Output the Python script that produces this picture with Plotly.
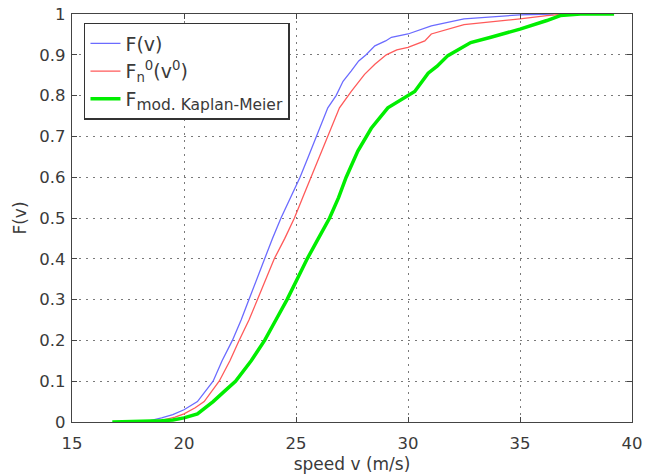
import plotly.graph_objects as go

# F(v)
blue_x = [17.5, 18.4, 19.0, 19.5, 20.0, 20.6, 21.3, 21.7, 22.16, 22.55, 22.9, 23.25, 23.58, 23.95,
          24.33, 24.75, 25.18, 25.55, 25.9, 26.42, 26.79, 27.1, 27.46, 27.8, 28.13, 28.52, 29.0,
          29.26, 30.0, 31.04, 32.5, 34.0, 35.0, 36.5]
blue_y = [0, 0.002, 0.01, 0.018, 0.03, 0.05, 0.1, 0.15, 0.2, 0.25, 0.3, 0.35, 0.4, 0.45,
          0.5, 0.55, 0.6, 0.65, 0.7, 0.77, 0.8, 0.835, 0.86, 0.885, 0.9, 0.922, 0.934,
          0.943, 0.951, 0.971, 0.988, 0.993, 0.998, 1.0]

# F_n^0(v^0)
red_x = [18.0, 19.1, 19.6, 20.0, 20.5, 20.9, 21.57, 22.05, 22.46, 22.9, 23.28, 23.65, 24.03, 24.5,
         24.93, 25.3, 25.67, 26.05, 26.42, 26.94, 27.46, 28.06, 28.52, 29.03, 29.5, 30.0, 30.75,
         31.04, 32.5, 34.0, 35.0, 36.2, 37.0]
red_y = [0, 0.005, 0.012, 0.02, 0.035, 0.05, 0.1, 0.15, 0.2, 0.25, 0.3, 0.35, 0.4, 0.45,
         0.5, 0.55, 0.6, 0.65, 0.7, 0.77, 0.81, 0.852, 0.877, 0.9, 0.912, 0.918, 0.934,
         0.951, 0.974, 0.982, 0.988, 0.996, 1.0]

# F_mod. Kaplan-Meier
green_x = [16.8, 18.0, 19.0, 19.5, 20.0, 20.6, 21.3, 21.8, 22.3, 23.0, 23.6, 24.1, 24.6, 25.05,
           25.5, 26.0, 26.5, 26.9, 27.24, 27.76, 28.36, 29.1, 29.7, 30.3, 30.9, 31.3, 31.78,
           32.8, 33.7, 35.0, 36.2, 36.8, 37.7, 39.2]
green_y = [0, 0.001, 0.003, 0.005, 0.01, 0.02, 0.05, 0.075, 0.1, 0.15, 0.2, 0.25, 0.3, 0.35,
           0.4, 0.45, 0.5, 0.55, 0.6, 0.664, 0.72, 0.77, 0.79, 0.81, 0.855, 0.872, 0.898,
           0.93, 0.943, 0.963, 0.984, 0.996, 1.0, 1.0]

x_ticks = [15, 20, 25, 30, 35, 40]
y_ticks = [0, 0.1, 0.2, 0.3, 0.4, 0.5, 0.6, 0.7, 0.8, 0.9, 1]
y_tick_labels = ["0", "0.1", "0.2", "0.3", "0.4", "0.5", "0.6", "0.7", "0.8", "0.9", "1"]

FONT = "DejaVu Sans, Liberation Sans, sans-serif"
TXT = "#3a3a3a"

fig = go.Figure()
fig.add_trace(go.Scatter(x=blue_x, y=blue_y, mode="lines", name="F(v)",
                         line=dict(color="#6b6bff", width=1.3)))
fig.add_trace(go.Scatter(x=red_x, y=red_y, mode="lines",
                         name="F<sub>n</sub><sup>0</sup>(v<sup>0</sup>)",
                         line=dict(color="#ff5a5a", width=1.3)))
fig.add_trace(go.Scatter(x=green_x, y=green_y, mode="lines",
                         name="F<sub><span style='font-size:15.5px'>mod. Kaplan-Meier</span></sub>",
                         line=dict(color="#00ee00", width=3.5)))

axis_common = dict(
    showline=True, linecolor="#444444", linewidth=1.2, mirror="allticks",
    ticks="inside", ticklen=5, tickcolor="#444444",
    showgrid=True, gridcolor="#7a7a7a", griddash="2px,5px", gridwidth=1,
    zeroline=False, tickfont=dict(size=16.5, color=TXT, family=FONT),
)

fig.update_xaxes(range=[15, 40], tickvals=x_ticks, ticktext=[str(t) for t in x_ticks],
                 ticklabelstandoff=6,
                 title=dict(text="speed v (m/s)", font=dict(size=17, color=TXT, family=FONT),
                            standoff=6),
                 **axis_common)
fig.update_yaxes(range=[0, 1], tickvals=y_ticks, ticktext=y_tick_labels,
                 ticklabelstandoff=2,
                 title=dict(text="F(v)", font=dict(size=17, color=TXT, family=FONT),
                            standoff=8),
                 **axis_common)

fig.update_layout(
    width=646, height=476,
    margin=dict(l=72, r=14, t=14, b=54, autoexpand=False),
    paper_bgcolor="white", plot_bgcolor="white",
    font=dict(family=FONT, color=TXT),
    showlegend=True,
    legend=dict(x=0.0214, y=0.978, xanchor="left", yanchor="top",
                bgcolor="white", bordercolor="#333333", borderwidth=1.5,
                font=dict(size=19, color=TXT, family=FONT), tracegroupgap=0),
)

fig.write_html("out.html", config={"displayModeBar": False},
               post_script="document.body.style.margin='0';document.body.style.overflow='hidden';")
